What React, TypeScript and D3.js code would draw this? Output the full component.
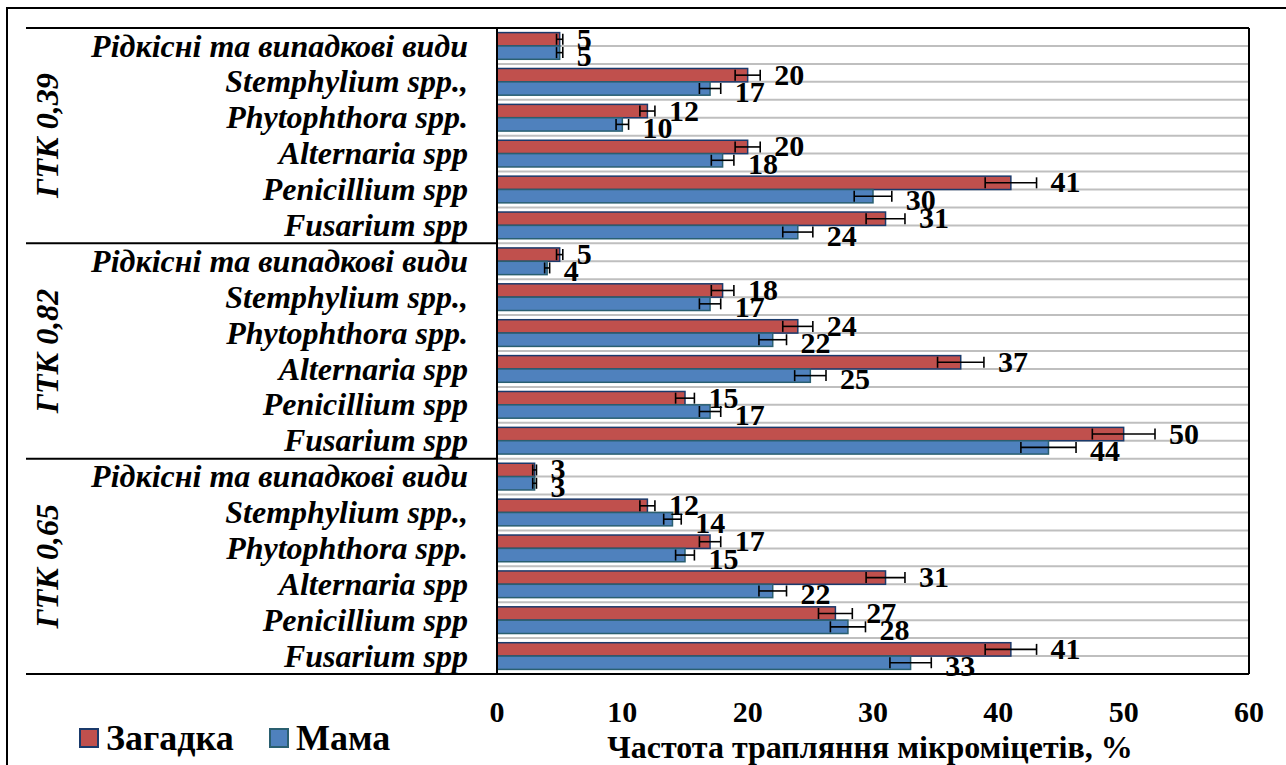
import React from "react";
import * as d3 from "d3";

const groups = ["ГТК 0,39", "ГТК 0,82", "ГТК 0,65"];
const species = [
  "Рідкісні та випадкові види",
  "Stemphylium spp.,",
  "Phytophthora spp.",
  "Alternaria spp",
  "Penicillium spp",
  "Fusarium spp",
];
const seriesNames = ["Загадка", "Мама"];
// values per group, in species order
const zagadka = [
  [5, 20, 12, 20, 41, 31],
  [5, 18, 24, 37, 15, 50],
  [3, 12, 17, 31, 27, 41],
];
const mama = [
  [5, 17, 10, 18, 30, 24],
  [4, 17, 22, 25, 17, 44],
  [3, 14, 15, 22, 28, 33],
];
const zagadkaErr = [
  [0.25, 1, 0.6, 1, 2.05, 1.55],
  [0.25, 0.9, 1.2, 1.85, 0.75, 2.5],
  [0.15, 0.6, 0.85, 1.55, 1.35, 2.05],
];
const mamaErr = [
  [0.25, 0.85, 0.5, 0.9, 1.5, 1.2],
  [0.2, 0.85, 1.1, 1.25, 0.85, 2.2],
  [0.15, 0.7, 0.75, 1.1, 1.4, 1.65],
];
const xTicks = [0, 10, 20, 30, 40, 50, 60];
const xTitle = "Частота трапляння мікроміцетів, %";

const W = 1286;
const H = 765;
const plot = { left: 497, right: 1249, top: 28, bottom: 674 };
const catLeft = 26;
const serif = "'Liberation Serif', 'Times New Roman', serif";
const colors = {
  redFill: "#C0504D",
  redStroke: "#1A3A6B",
  blueFill: "#4F81BD",
  blueStroke: "#2A5F70",
};

export default function App() {
  const rows = groups.flatMap((g, gi) =>
    species.map((s, si) => ({
      key: `${gi}-${si}`,
      group: gi,
      name: s,
      vals: [zagadka[gi][si], mama[gi][si]],
      errs: [zagadkaErr[gi][si], mamaErr[gi][si]],
    }))
  );

  const x = d3.scaleLinear().domain([0, 60]).range([plot.left, plot.right]);
  const y = d3
    .scaleBand<string>()
    .domain(rows.map((r) => r.key))
    .range([plot.top, plot.bottom])
    .padding(0);
  const bw = y.bandwidth();
  const barH = bw * 0.372;
  const inner = d3
    .scaleBand<number>()
    .domain([0, 1])
    .range([bw / 2 - barH, bw / 2 + barH])
    .padding(0);

  const gridYs = d3.range(1, rows.length * 2).map((k) => plot.top + (k * bw) / 2);

  const fills = [colors.redFill, colors.blueFill];
  const strokes = [colors.redStroke, colors.blueStroke];
  const ts: React.CSSProperties = { fontFamily: serif, fontWeight: 700 };

  return (
    <svg
      width={W}
      height={H}
      style={{ position: "absolute", left: 0, top: 0, background: "#fff", fontFamily: serif }}
    >
      <rect x={0} y={0} width={W} height={H} fill="#fff" />
      {/* outer frame */}
      <rect x={7} y={8} width={W + 20} height={H + 20} fill="none" stroke="#000" strokeWidth={2} />

      {/* gridlines */}
      {gridYs.map((gy, i) => (
        <line key={i} x1={plot.left} x2={plot.right} y1={gy} y2={gy} stroke="#BFBFBF" strokeWidth={2} />
      ))}

      {/* bars */}
      {rows.map((r) =>
        r.vals.map((v, si) => {
          const y0 = (y(r.key) as number) + (inner(si) as number);
          return (
            <rect
              key={`${r.key}-${si}`}
              x={x(0)}
              y={y0}
              width={x(v) - x(0)}
              height={inner.bandwidth()}
              fill={fills[si]}
              stroke={strokes[si]}
              strokeWidth={1.5}
            />
          );
        })
      )}

      {/* error bars */}
      {rows.map((r) =>
        r.vals.map((v, si) => {
          const cy = (y(r.key) as number) + (inner(si) as number) + inner.bandwidth() / 2;
          const e = r.errs[si];
          const x1 = x(v - e);
          const x2 = x(v + e);
          const c = 5.5;
          return (
            <g key={`e-${r.key}-${si}`} stroke="#000" strokeWidth={1.6}>
              <line x1={x1} x2={x2} y1={cy} y2={cy} />
              <line x1={x1} x2={x1} y1={cy - c} y2={cy + c} />
              <line x1={x2} x2={x2} y1={cy - c} y2={cy + c} />
            </g>
          );
        })
      )}

      {/* value labels */}
      {rows.map((r) =>
        r.vals.map((v, si) => {
          const cy = (y(r.key) as number) + (inner(si) as number) + inner.bandwidth() / 2;
          return (
            <text
              key={`l-${r.key}-${si}`}
              x={x(v + r.errs[si]) + 14}
              y={cy + (si === 1 ? 3 : -1)}
              dy="0.35em"
              fontSize={30}
              style={ts}
              fill="#000"
            >
              {v}
            </text>
          );
        })
      )}

      {/* plot frame */}
      <line x1={catLeft} x2={plot.right} y1={plot.top} y2={plot.top} stroke="#000" strokeWidth={2} />
      <line x1={catLeft} x2={plot.right} y1={plot.bottom} y2={plot.bottom} stroke="#000" strokeWidth={2} />
      <line x1={plot.right} x2={plot.right} y1={plot.top} y2={plot.bottom} stroke="#000" strokeWidth={2} />
      <line x1={plot.left} x2={plot.left} y1={plot.top} y2={plot.bottom} stroke="#000" strokeWidth={2} />
      {groups.slice(1).map((g, gi) => {
        const gy = y(`${gi + 1}-0`) as number;
        return <line key={g} x1={catLeft} x2={plot.left} y1={gy} y2={gy} stroke="#000" strokeWidth={2} />;
      })}

      {/* category labels */}
      {rows.map((r) => (
        <text
          key={`c-${r.key}`}
          x={468}
          y={(y(r.key) as number) + bw / 2}
          dy="0.33em"
          textAnchor="end"
          fontSize={32}
          style={{ ...ts, fontStyle: "italic" }}
          fill="#000"
        >
          {r.name}
        </text>
      ))}

      {/* group labels */}
      {groups.map((g, gi) => {
        const y0 = y(`${gi}-0`) as number;
        const y1 = (y(`${gi}-${species.length - 1}`) as number) + bw;
        const cy = (y0 + y1) / 2;
        return (
          <text
            key={g}
            transform={`translate(47,${cy}) rotate(-90)`}
            textAnchor="middle"
            dy="0.35em"
            fontSize={32}
            style={{ ...ts, fontStyle: "italic" }}
            fill="#000"
          >
            {g}
          </text>
        );
      })}

      {/* x tick labels */}
      {xTicks.map((t) => (
        <text key={t} x={x(t)} y={722} textAnchor="middle" fontSize={30} style={ts} fill="#000">
          {t}
        </text>
      ))}
      <text x={870} y={758} textAnchor="middle" fontSize={32} style={ts} fill="#000">
        {xTitle}
      </text>

      {/* legend */}
      {seriesNames.map((n, i) => {
        const lx = i === 0 ? 80 : 270;
        return (
          <g key={n}>
            <rect x={lx} y={729} width={18} height={18} fill={fills[i]} stroke={strokes[i]} strokeWidth={2} />
            <text x={lx + 26} y={750} fontSize={36} style={ts} fill="#000">
              {n}
            </text>
          </g>
        );
      })}
    </svg>
  );
}
